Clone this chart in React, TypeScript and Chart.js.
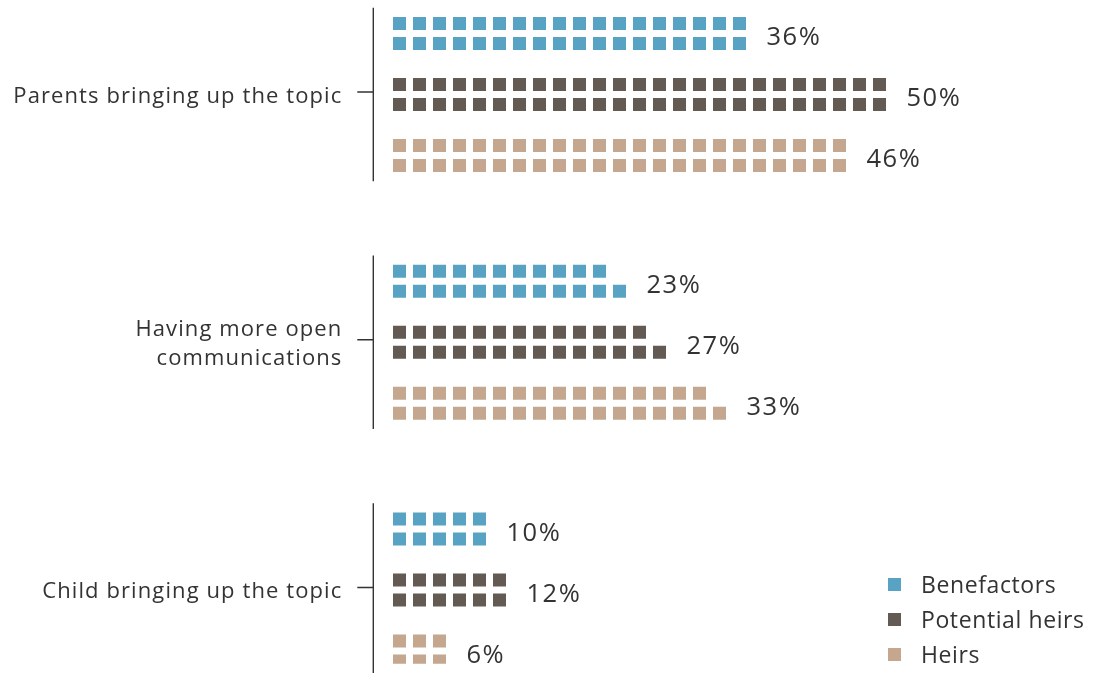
import React, { useEffect, useRef } from "react";
import { Chart, registerables } from "chart.js";

Chart.register(...registerables);

const categories: string[][] = [
  ["Parents bringing up the topic"],
  ["Having more open", "communications"],
  ["Child bringing up the topic"],
];
const seriesNames = ["Benefactors", "Potential heirs", "Heirs"];
const seriesColors = ["#58A3C3", "#625A53", "#C4A78E"];
const benefactors = [36, 23, 10];
const potentialHeirs = [50, 27, 12];
const heirs = [46, 33, 6];
const seriesValues = [benefactors, potentialHeirs, heirs];

// layout constants (pixels)
const X0 = 399.5; // centre of the first square
const PITCH_X = 20; // square pitch
const Y0 = 94.5; // centre of the first category
const PITCH_Y = 247.75; // category pitch
const SERIES_GAP = 61 / PITCH_Y;
const ROW_GAP = 20 / PITCH_Y;
const FONT = "'Open Sans', 'Noto Sans', sans-serif";
const TEXT = "#333333";

function setSpacing(ctx: any, px: number) {
  try { ctx.letterSpacing = `${px}px`; } catch (e) {}
}

function buildPoints(si: number) {
  const pts: { x: number; y: number }[] = [];
  seriesValues[si].forEach((v, c) => {
    const top = Math.floor(v / 2);
    const bottom = Math.ceil(v / 2);
    const yc = c + (si - 1) * SERIES_GAP;
    for (let i = 0; i < top; i++) pts.push({ x: i, y: yc - ROW_GAP / 2 });
    for (let i = 0; i < bottom; i++) pts.push({ x: i, y: yc + ROW_GAP / 2 });
  });
  return pts;
}

const decorPlugin = {
  id: "decor",
  afterDatasetsDraw(chart: any) {
    const ctx = chart.ctx;
    const xs = chart.scales.x;
    const ys = chart.scales.y;
    const x0 = xs.getPixelForValue(0);
    const axisX = x0 - 26.2;
    ctx.save();
    categories.forEach((lines, c) => {
      const centre = ys.getPixelForValue(c);
      const top = ys.getPixelForValue(c - 0.35);
      const bot = ys.getPixelForValue(c + 0.35);
      const mid = centre - 2.5;
      ctx.strokeStyle = "#333333";
      ctx.lineWidth = 1.4;
      ctx.beginPath();
      ctx.moveTo(axisX, top);
      ctx.lineTo(axisX, bot);
      ctx.moveTo(axisX - 16, mid);
      ctx.lineTo(axisX, mid);
      ctx.stroke();
      ctx.fillStyle = TEXT;
      ctx.font = `400 22px ${FONT}`;
      setSpacing(ctx, 1.1);
      ctx.textAlign = "right";
      ctx.textBaseline = "alphabetic";
      const lh = 29;
      lines.forEach((ln, i) => {
        const y = centre + 8 + (i - (lines.length - 1) / 2) * lh;
        ctx.fillText(ln, axisX - 32 + 1.1, y);
      });
    });
    // value labels
    ctx.font = `400 25.5px ${FONT}`;
    setSpacing(ctx, 1.5);
    ctx.textAlign = "left";
    ctx.textBaseline = "alphabetic";
    seriesValues.forEach((vals, si) => {
      vals.forEach((v, c) => {
        const n = Math.ceil(v / 2);
        const x = xs.getPixelForValue(n - 1) + 27;
        const y = ys.getPixelForValue(c + (si - 1) * SERIES_GAP) + 11.5;
        ctx.fillStyle = TEXT;
        ctx.fillText(`${v}%`, x, y);
      });
    });
    // legend
    ctx.font = `400 23px ${FONT}`;
    setSpacing(ctx, 0.6);
    seriesNames.forEach((name, i) => {
      const y = 584.5 + i * 35;
      ctx.fillStyle = seriesColors[i];
      ctx.fillRect(888, y - 6.5, 13, 13);
      ctx.fillStyle = TEXT;
      ctx.fillText(name, 921, y + 8.5);
    });
    setSpacing(ctx, 0);
    ctx.restore();
  },
};

export default function App() {
  const ref = useRef<HTMLCanvasElement | null>(null);
  useEffect(() => {
    if (!ref.current) return;
    const chart = new Chart(ref.current, {
      type: "scatter",
      data: {
        datasets: seriesNames.map((name, si) => ({
          label: name,
          data: buildPoints(si),
          backgroundColor: seriesColors[si],
          borderWidth: 0,
          pointStyle: "rect",
          pointRadius: 9.2,
          pointHoverRadius: 9.2,
          pointHoverBorderWidth: 0,
        })),
      },
      options: {
        animation: false,
        responsive: true,
        maintainAspectRatio: false,
        events: [],
        layout: { padding: 0 },
        plugins: { legend: { display: false }, tooltip: { enabled: false } },
        scales: {
          x: { type: "linear", display: false, min: -20, max: 34.75 },
          y: { type: "linear", display: false, reverse: true, min: -0.3814, max: 2.335 },
        },
      },
      plugins: [decorPlugin],
    });
    // map scales so that the pixel layout matches regardless of chart-area insets
    const a = chart.chartArea;
    const so: any = chart.options.scales;
    so.x.min = (a.left - X0) / PITCH_X;
    so.x.max = (a.right - X0) / PITCH_X;
    so.y.min = (a.top - Y0) / PITCH_Y;
    so.y.max = (a.bottom - Y0) / PITCH_Y;
    chart.update("none");
    return () => chart.destroy();
  }, []);
  return (
    <div style={{ position: "absolute", left: 0, top: 0, width: 1095, height: 673, background: "#fff" }}>
      <canvas ref={ref} />
    </div>
  );
}
